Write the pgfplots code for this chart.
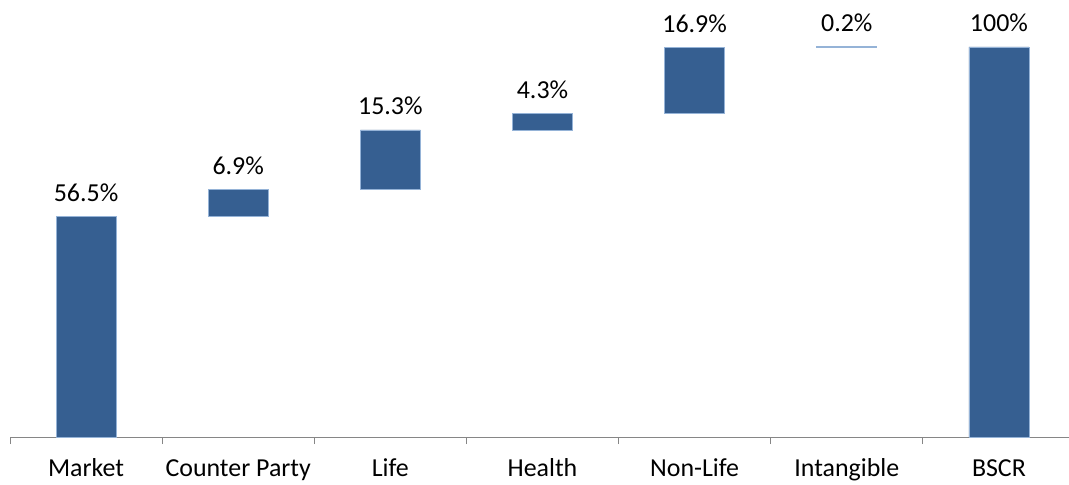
\documentclass[border=0pt]{standalone}
\usepackage{pgfplots}
\usepackage{pgfplotstable}
\pgfplotsset{compat=1.18}
\usepackage{fontspec}
\setmainfont{Carlito}
\definecolor{barblue}{HTML}{365F91}
\definecolor{baredge}{HTML}{95B3D7}
\definecolor{axgray}{HTML}{868686}
\pgfplotstableread{
x base h top lab
0 0    56.5 56.5  56.5\%
1 56.5 6.9  63.4  6.9\%
2 63.4 15.3 78.7  15.3\%
3 78.7 4.3  83.0  4.3\%
4 83.0 16.9 99.9  16.9\%
5 99.9 0.2  100.1 0.2\%
6 0    100  100   100\%
}\wf
\pgfplotsset{common/.style={
  scale only axis, width=1065bp, height=437bp,
  xmin=-0.5, xmax=6.5, ymin=0, ymax=112, clip=false}}
\begin{document}
\begin{tikzpicture}
\begin{axis}[
  common,
  axis y line=none, axis x line=bottom,
  axis line style={-, axgray, line width=0.9bp},
  ybar stacked, bar width=60bp,
  xtick={0,...,6},
  xticklabels={Market,Counter Party,Life,Health,Non-Life,Intangible,BSCR},
  major tick length=0pt,
  minor xtick={-0.5,0.5,...,6.5},
  minor tick length=7bp,
  tick align=outside,
  minor tick style={axgray, line width=0.9bp},
  xticklabel style={font=\fontsize{26}{31}\selectfont, anchor=base, yshift=-39bp},
]
\addplot[draw=none, fill=none] table[x=x, y=base] {\wf};
\addplot[fill=barblue, draw=baredge, line width=0.6bp] table[x=x, y=h] {\wf};
\coordinate (bl) at (rel axis cs:0,0);
\coordinate (tr) at (rel axis cs:1,1);
\end{axis}
\begin{axis}[common, axis lines=none]
\addplot[draw=none, mark=none,
  point meta=explicit symbolic,
  nodes near coords,
  nodes near coords style={font=\fontsize{26}{31}\selectfont, anchor=base, yshift=15bp, text=black}]
  table[x=x, y=top, meta=lab] {\wf};
\end{axis}
\pgfresetboundingbox
\path[use as bounding box] ([xshift=-10bp, yshift=-47bp]bl) rectangle ([xshift=-6bp]tr);
\end{tikzpicture}
\end{document}
